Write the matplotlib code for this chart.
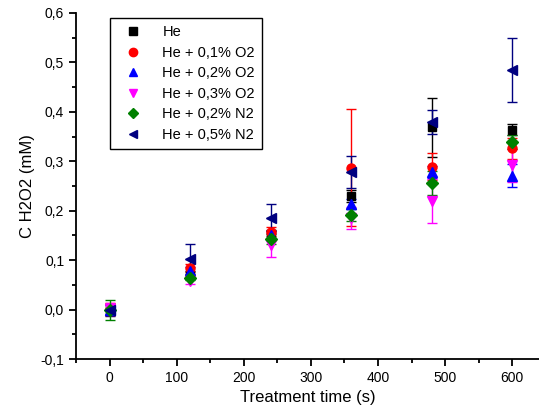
import numpy as np
import matplotlib
matplotlib.use('Agg')
import matplotlib.pyplot as plt
from matplotlib.ticker import MultipleLocator, FuncFormatter
from matplotlib.lines import Line2D

plt.rcParams["font.family"] = ["Liberation Sans", "DejaVu Sans"]

# treatment times (s)
t = [0, 120, 240, 360, 480, 600]

labels = ['He', 'He + 0,1% O2', 'He + 0,2% O2', 'He + 0,3% O2',
          'He + 0,2% N2', 'He + 0,5% N2']

he = [0.000, 0.070, 0.152, 0.230, 0.369, 0.364]
he_err = [0.012, 0.008, 0.010, 0.012, 0.060, 0.011]

o2_01 = [0.002, 0.084, 0.158, 0.287, 0.289, 0.326]
o2_01_err = [0.012, 0.008, 0.010, 0.118, 0.027, 0.021]

o2_02 = [0.000, 0.079, 0.150, 0.214, 0.279, 0.271]
o2_02_err = [0.010, 0.008, 0.010, 0.010, 0.012, 0.023]

o2_03 = [0.002, 0.057, 0.131, 0.185, 0.220, 0.292]
o2_03_err = [0.012, 0.006, 0.024, 0.022, 0.045, 0.033]

n2_02 = [0.000, 0.065, 0.143, 0.191, 0.256, 0.339]
n2_02_err = [0.020, 0.005, 0.010, 0.012, 0.025, 0.015]

n2_05 = [0.000, 0.102, 0.186, 0.279, 0.380, 0.484]
n2_05_err = [0.010, 0.030, 0.027, 0.032, 0.024, 0.065]

series = [he, o2_01, o2_02, o2_03, n2_02, n2_05]
errors = [he_err, o2_01_err, o2_02_err, o2_03_err, n2_02_err, n2_05_err]
colors = ['black', 'red', 'blue', 'magenta', 'green', 'navy']
markers = ['s', 'o', '^', 'v', 'D', '<']
sizes = [6, 6.5, 6.5, 6.5, 6, 6.5]

fig = plt.figure(figsize=(5.39, 4.19), dpi=100)
ax = fig.add_axes([0.141, 0.143, 0.859, 0.826])

handles = []
for y, e, c, m, s, lab in zip(series, errors, colors, markers, sizes, labels):
    ax.errorbar(t, y, yerr=e, fmt=m, color=c, ecolor=c, markersize=s,
                capsize=3.5, elinewidth=1, capthick=1)
    handles.append(Line2D([], [], linestyle='none', marker=m, color=c,
                          markersize=s - 0.5, label=lab))

ax.set_xlim(-50, 640)
ax.set_ylim(-0.1, 0.6)

ax.xaxis.set_major_locator(MultipleLocator(100))
ax.xaxis.set_minor_locator(MultipleLocator(50))
ax.yaxis.set_major_locator(MultipleLocator(0.1))
ax.yaxis.set_minor_locator(MultipleLocator(0.05))
ax.yaxis.set_major_formatter(FuncFormatter(lambda v, p: ('%.1f' % v).replace('.', ',')))

ax.spines['right'].set_visible(False)
ax.spines['top'].set_visible(False)
ax.spines['left'].set_linewidth(1.3)
ax.spines['bottom'].set_linewidth(1.3)
ax.tick_params(which='major', direction='out', length=5, width=1.3, labelsize=10)
ax.tick_params(which='minor', direction='out', length=3, width=1.3)

ax.set_xlabel('Treatment time (s)', fontsize=12)
ax.set_ylabel('C H2O2 (mM)', fontsize=12)

leg = ax.legend(handles=handles, loc='upper left', bbox_to_anchor=(0.073, 0.986),
                fontsize=10.5, fancybox=False, edgecolor='black', framealpha=1,
                handletextpad=0.9, labelspacing=0.45, borderpad=0.5,
                handlelength=2.2, borderaxespad=0)
leg.get_frame().set_linewidth(1)

fig.savefig('out.png', dpi=100)
